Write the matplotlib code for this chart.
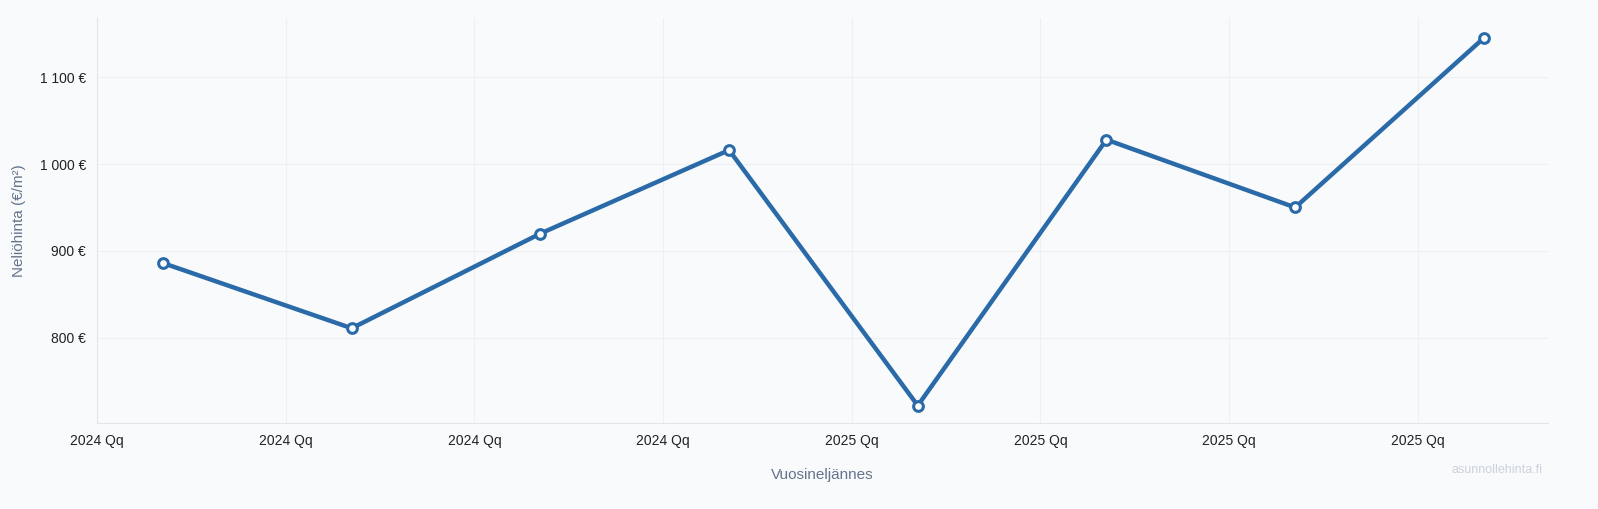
import matplotlib
matplotlib.use("Agg")
import matplotlib.pyplot as plt
import numpy as np

plt.rcParams['font.family'] = ['Liberation Sans', 'DejaVu Sans']

quarters = ["2024 Q1", "2024 Q2", "2024 Q3", "2024 Q4", "2025 Q1", "2025 Q2", "2025 Q3", "2025 Q4"]
tick_labels = ["2024 Qq"] * 4 + ["2025 Qq"] * 4
prices = [886, 811, 920, 1016, 722, 1028, 950, 1145]
yticks = [800, 900, 1000, 1100]

bg = "#f8fafc"
fig = plt.figure(figsize=(15.98, 5.09), dpi=100, facecolor=bg)
ax = fig.add_axes([0.0607, 0.169, 0.908, 0.7956], facecolor=bg)

x = np.arange(len(prices))
ax.plot(x, prices, color="#2b6aa8", lw=3.2, marker="o", ms=7,
        mfc="white", mec="#2b6aa8", mew=2.2, zorder=3)

ax.set_xlim(-0.35, 7.34)
ax.set_ylim(702, 1168)
ax.set_xticks(x - 0.35)
ax.set_xticklabels(tick_labels)
ax.set_yticks(yticks)
ax.set_yticklabels([f"{v:,} €".replace(",", " ") for v in yticks])
ax.grid(True, color="#eef0f3", lw=0.8)
for s in ["top", "right"]:
    ax.spines[s].set_visible(False)
for s in ["left", "bottom"]:
    ax.spines[s].set_color("#e2e5ea")
ax.tick_params(length=0, labelsize=10, colors="#222222", pad=8)
ax.set_xlabel("Vuosineljännes", fontsize=11, color="#64748b", labelpad=14)
ax.set_ylabel("Neliöhinta (€/m²)", fontsize=11, color="#64748b", labelpad=10)
fig.text(0.965, 0.07, "asunnollehinta.fi", ha="right", fontsize=9, color="#cbd2da")

fig.savefig("out.png", facecolor=bg)
